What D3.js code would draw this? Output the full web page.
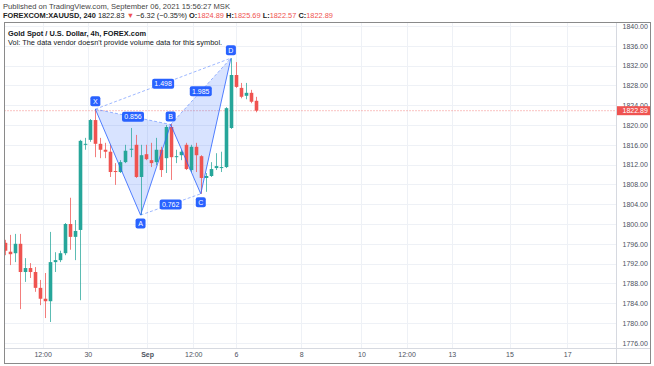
<!DOCTYPE html>
<html>
<head>
<meta charset="utf-8">
<script src="https://cdn.jsdelivr.net/npm/d3@7"></script>
<style>
  body { margin: 0; background: #fff; }
  svg { display: block; font-family: "Liberation Sans", Arial, sans-serif; }
</style>
</head>
<body>
<div id="graph"></div>
<script>
// 4h candles, bar index 0..50
const opens  = [1796.2,1794.4,1794.1,1796.0,1790.3,1791.1,1790.3,1787.1,1784.9,1784.4,1792.3,1792.7,1794.1,1800.0,1797.4,1798.8,1816.0,1817.0,1821.0,1816.2,1815.0,1814.6,1810.7,1810.5,1812.5,1815.0,1816.0,1809.5,1814.1,1812.9,1812.5,1815.0,1813.3,1819.6,1813.5,1813.9,1816.0,1810.9,1815.6,1813.7,1809.3,1809.7,1811.3,1811.3,1811.5,1819.4,1830.1,1827.5,1825.9,1826.5,1824.89];
const highs  = [1796.8,1797.8,1798.0,1798.0,1793.1,1792.1,1791.3,1788.7,1790.1,1798.4,1794.3,1794.6,1800.2,1805.3,1800.8,1817.0,1817.4,1821.2,1823.2,1817.4,1816.4,1816.0,1812.3,1812.9,1816.0,1819.4,1818.0,1816.0,1816.0,1816.4,1817.4,1815.6,1820.0,1820.2,1815.0,1815.0,1816.4,1816.0,1816.4,1813.9,1810.3,1812.5,1814.3,1814.6,1823.6,1833.5,1832.7,1828.5,1828.5,1827.1,1825.69];
const lows   = [1793.7,1791.7,1792.3,1782.8,1788.3,1789.1,1786.3,1783.6,1781.0,1780.2,1790.3,1792.3,1793.7,1794.8,1792.7,1784.6,1815.0,1816.6,1813.5,1813.3,1813.3,1809.5,1807.9,1810.3,1812.3,1813.5,1809.3,1801.8,1812.9,1811.5,1811.9,1809.5,1810.3,1808.9,1812.3,1812.9,1810.9,1810.5,1810.5,1806.1,1806.5,1809.5,1810.9,1810.5,1811.3,1819.2,1827.5,1825.4,1825.2,1824.4,1822.57];
const closes = [1794.6,1793.9,1796.0,1790.3,1791.1,1790.3,1787.1,1784.9,1784.4,1792.3,1792.7,1794.1,1800.0,1797.4,1798.6,1816.8,1816.2,1821.0,1816.2,1815.0,1814.6,1810.5,1810.5,1812.5,1814.8,1815.2,1809.5,1813.9,1813.1,1812.3,1815.0,1810.9,1819.6,1813.5,1813.7,1814.6,1811.1,1815.6,1813.9,1809.3,1809.7,1811.1,1811.7,1811.5,1823.4,1830.1,1827.7,1825.7,1826.5,1824.7,1822.89];

// XABCD pattern
const patNames  = ["X", "A", "B", "C", "D"];
const patBars   = [18, 27, 33, 39, 45];
const patPrices = [1823.2, 1801.8, 1820.1, 1806.1, 1833.5];
const ratioPairs  = [[0, 2], [0, 4], [1, 3], [2, 4]];
const ratioLabels = ["0.856", "1.498", "0.762", "1.985"];

const priceTicks = [1776,1780,1784,1788,1792,1796,1800,1804,1808,1812,1816,1820,1824,1828,1832,1836,1840];
const timeTickBars   = [7.5, 16.5, 28.3, 37.5, 46, 59, 71, 80, 89, 100.5, 112];
const timeTickLabels = ["12:00", "30", "Sep", "12:00", "6", "8", "10", "12:00", "13", "15", "17"];
const lastPrice = 1822.89;

const W = 654, H = 366;
const frame = { left: 4.5, top: 22.5, right: 650.5, bottom: 363.5 };
const plotRight = 616.5, plotBottom = 348.5;
const UP = "#26a69a", DOWN = "#ef5350", BLUE = "#2962ff";

const x = d3.scaleLinear().domain([0, 50]).range([5, 256]);
const y = d3.scaleLinear().domain([1776, 1840]).range([342.8, 26]);

const svg = d3.select("#graph").append("svg").attr("width", W).attr("height", H);

// header
svg.append("text").attr("x", 3).attr("y", 9).attr("font-size", 7.6).attr("fill", "#444")
    .text("Published on TradingView.com, September 06, 2021 15:56:27 MSK");
const hdr = svg.append("text").attr("x", 3).attr("y", 18).attr("font-size", 7.4).attr("fill", "#222");
hdr.append("tspan").attr("font-weight", "bold").text("FOREXCOM:XAUUSD, 240 ");
hdr.append("tspan").text("1822.83 ");
hdr.append("tspan").attr("fill", DOWN).text("▼");
hdr.append("tspan").text(" −6.32 (−0.35%) ");
[["O:", "1824.89"], ["H:", "1825.69"], ["L:", "1822.57"], ["C:", "1822.89"]].forEach(([k, v]) => {
    hdr.append("tspan").attr("font-weight", "bold").text(k);
    hdr.append("tspan").attr("fill", DOWN).text(v + " ");
});

// grid
const grid = svg.append("g").attr("stroke", "#eef1f6").attr("stroke-width", 1);
grid.selectAll("line.h").data(priceTicks).join("line")
    .attr("x1", frame.left).attr("x2", plotRight)
    .attr("y1", d => Math.round(y(d)) + 0.5).attr("y2", d => Math.round(y(d)) + 0.5);
grid.selectAll("line.v").data(timeTickBars).join("line")
    .attr("x1", d => Math.round(x(d)) + 0.5).attr("x2", d => Math.round(x(d)) + 0.5)
    .attr("y1", frame.top).attr("y2", plotBottom);

svg.append("defs").append("clipPath").attr("id", "plot")
    .append("rect").attr("x", frame.left + 0.5).attr("y", frame.top + 0.5)
    .attr("width", plotRight - frame.left - 1).attr("height", plotBottom - frame.top - 1);

const plot = svg.append("g").attr("clip-path", "url(#plot)");

// last price line
plot.append("line").attr("x1", frame.left).attr("x2", plotRight)
    .attr("y1", y(lastPrice)).attr("y2", y(lastPrice))
    .attr("stroke", DOWN).attr("stroke-opacity", 0.7).attr("stroke-dasharray", "1,2");

// pattern fill
const pts = patBars.map((b, i) => [x(b), y(patPrices[i])]);
const tri = [[0, 1, 2], [2, 3, 4]];
plot.selectAll("path.tri").data(tri).join("path")
    .attr("d", t => "M" + t.map(k => pts[k].join(",")).join("L") + "Z")
    .attr("fill", BLUE).attr("fill-opacity", 0.18);

// candles
const bars = d3.range(opens.length);
const cg = plot.append("g");
cg.selectAll("line").data(bars).join("line")
    .attr("x1", i => Math.round(x(i)) + 0.5).attr("x2", i => Math.round(x(i)) + 0.5)
    .attr("y1", i => y(highs[i])).attr("y2", i => y(lows[i]))
    .attr("stroke", i => closes[i] >= opens[i] ? UP : DOWN).attr("stroke-opacity", 0.75);
cg.selectAll("rect").data(bars).join("rect")
    .attr("x", i => Math.round(x(i)) + 0.5 - 1.8).attr("width", 3.6)
    .attr("y", i => y(Math.max(opens[i], closes[i])))
    .attr("height", i => Math.max(1, Math.abs(y(opens[i]) - y(closes[i]))))
    .attr("fill", i => closes[i] >= opens[i] ? UP : DOWN);

// pattern lines
plot.selectAll("line.ratio").data(ratioPairs).join("line")
    .attr("x1", p => pts[p[0]][0]).attr("y1", p => pts[p[0]][1])
    .attr("x2", p => pts[p[1]][0]).attr("y2", p => pts[p[1]][1])
    .attr("stroke", BLUE).attr("stroke-opacity", 0.45).attr("stroke-dasharray", "3,2");
plot.append("path")
    .attr("d", d3.line()(pts))
    .attr("fill", "none").attr("stroke", BLUE).attr("stroke-width", 1).attr("stroke-opacity", 0.8);

// ratio labels
ratioPairs.forEach((p, i) => {
    const cx = (pts[p[0]][0] + pts[p[1]][0]) / 2, cy = (pts[p[0]][1] + pts[p[1]][1]) / 2;
    plot.append("rect").attr("x", cx - 11).attr("y", cy - 5).attr("width", 22).attr("height", 10)
        .attr("rx", 2).attr("fill", BLUE);
    plot.append("text").attr("x", cx).attr("y", cy + 2.5).attr("text-anchor", "middle")
        .attr("font-size", 7).attr("fill", "#fff").text(ratioLabels[i]);
});

// point labels
const above = [true, false, true, false, true];
patNames.forEach((n, i) => {
    const cx = pts[i][0], cy = pts[i][1] + (above[i] ? -8 : 8.5);
    plot.append("rect").attr("x", cx - 5).attr("y", cy - 5).attr("width", 10).attr("height", 10)
        .attr("rx", 2).attr("fill", BLUE);
    plot.append("text").attr("x", cx).attr("y", cy + 2.5).attr("text-anchor", "middle")
        .attr("font-size", 7).attr("fill", "#fff").text(n);
});

// legend text in the chart
svg.append("text").attr("x", 8).attr("y", 35.5).attr("font-size", 7.4).attr("font-weight", "bold")
    .attr("fill", "#131722").text("Gold Spot / U.S. Dollar, 4h, FOREX.com");
svg.append("text").attr("x", 8).attr("y", 44.5).attr("font-size", 7.4)
    .attr("fill", "#131722").text("Vol: The data vendor doesn't provide volume data for this symbol.");

// axes separators and frame
svg.append("line").attr("x1", plotRight).attr("x2", plotRight).attr("y1", frame.top).attr("y2", frame.bottom)
    .attr("stroke", "#d6d9e0");
svg.append("line").attr("x1", frame.left).attr("x2", frame.right).attr("y1", plotBottom).attr("y2", plotBottom)
    .attr("stroke", "#d6d9e0");
svg.append("rect").attr("x", frame.left).attr("y", frame.top)
    .attr("width", frame.right - frame.left).attr("height", frame.bottom - frame.top)
    .attr("fill", "none").attr("stroke", "#8a8a8a");

// price axis (the 1824 label sits partly under the last-price badge, as in TradingView)
const yAxis = svg.append("g").attr("transform", `translate(${plotRight},0)`)
    .call(d3.axisRight(y).tickValues(priceTicks).tickFormat(d3.format(".2f")).tickSize(0).tickPadding(6));
yAxis.select(".domain").remove();
yAxis.attr("font-family", null);
yAxis.selectAll("text").attr("font-size", 7).attr("fill", "#4c525e");

// last price badge
svg.append("rect").attr("x", plotRight + 0.5).attr("y", y(lastPrice) - 4.5).attr("width", 33).attr("height", 9)
    .attr("fill", DOWN);
svg.append("text").attr("x", plotRight + 6).attr("y", y(lastPrice) + 2.5).attr("font-size", 7)
    .attr("fill", "#fff").text(lastPrice.toFixed(2));

// time axis
const xAxis = svg.append("g").attr("transform", `translate(0,${plotBottom})`)
    .call(d3.axisBottom(x).tickValues(timeTickBars).tickFormat((d, i) => timeTickLabels[i]).tickSize(0).tickPadding(4));
xAxis.select(".domain").remove();
xAxis.attr("font-family", null);
xAxis.selectAll("text").attr("font-size", 7).attr("fill", "#4c525e")
    .attr("font-weight", (d, i) => timeTickLabels[i] === "Sep" ? "bold" : null);
</script>
</body>
</html>
